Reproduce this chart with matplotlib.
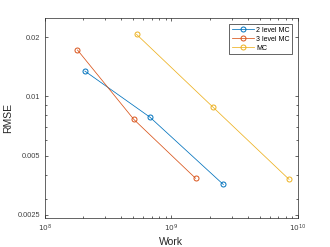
import numpy as np
import matplotlib
matplotlib.use("Agg")
import matplotlib.pyplot as plt
from matplotlib.ticker import LogLocator, FixedLocator, NullFormatter

# ── Data ─────────────────────────────────────────────────────────────────────
work_2lvl = [2.07e8, 6.76e8, 2.57e9]
rmse_2lvl = [0.01346, 0.00784, 0.00356]

work_3lvl = [1.81e8, 5.05e8, 1.55e9]
rmse_3lvl = [0.01723, 0.00763, 0.00383]

work_mc = [5.3e8, 2.14e9, 8.5e9]
rmse_mc = [0.0207, 0.00879, 0.00378]

series_labels = ["2 level MC", "3 level MC", "MC"]
series_colors = ["#0072BD", "#D95319", "#EDB120"]

y_ticks = [0.0025, 0.005, 0.01, 0.02]
y_tick_labels = ["0.0025", "0.005", "0.01", "0.02"]

AX_COLOR = "#262626"
TICK_TEXT = "#404040"

plt.rcParams["font.family"] = ["Liberation Sans", "DejaVu Sans"]

fig = plt.figure(figsize=(3.3, 2.47), dpi=100)
ax = fig.add_axes([0.136, 0.117, 0.767, 0.809])

for xs, ys, lab, col in zip([work_2lvl, work_3lvl, work_mc],
                            [rmse_2lvl, rmse_3lvl, rmse_mc],
                            series_labels, series_colors):
    ax.plot(xs, ys, "-o", color=col, lw=0.55, ms=3.6, mfc="none", mew=0.7, label=lab)

ax.set_xscale("log")
ax.set_yscale("log")
ax.set_xlim(1e8, 1e10)
ax.set_ylim(0.0024, 0.025)

ax.xaxis.set_major_locator(FixedLocator([1e8, 1e9, 1e10]))
ax.xaxis.set_minor_locator(LogLocator(base=10, subs=np.arange(2, 10)))
ax.xaxis.set_minor_formatter(NullFormatter())
ax.set_xticklabels([r"$10^8$", r"$10^9$", r"$10^{10}$"])

ax.yaxis.set_major_locator(FixedLocator(y_ticks))
ax.yaxis.set_minor_locator(LogLocator(base=10, subs=np.arange(2, 10)))
ax.yaxis.set_minor_formatter(NullFormatter())
ax.set_yticklabels(y_tick_labels)

ax.tick_params(which="both", direction="in", top=True, right=True,
               colors=AX_COLOR, labelcolor=TICK_TEXT, labelsize=5.3, width=0.5)
ax.tick_params(which="major", length=2.5)
ax.tick_params(which="minor", length=1.5)
for sp in ax.spines.values():
    sp.set_color(AX_COLOR)
    sp.set_linewidth(0.5)

ax.set_xlabel("Work", fontsize=7.5, color=AX_COLOR, labelpad=2)
ax.set_ylabel("RMSE", fontsize=7.5, color=AX_COLOR, labelpad=3)

leg = ax.legend(loc="upper right", fontsize=5, fancybox=False, framealpha=1,
                edgecolor=AX_COLOR, handlelength=3.2, borderpad=0.35,
                labelspacing=0.3, handletextpad=0.3, borderaxespad=0.85)
leg.get_frame().set_linewidth(0.5)

fig.savefig("out.png", dpi=100)
